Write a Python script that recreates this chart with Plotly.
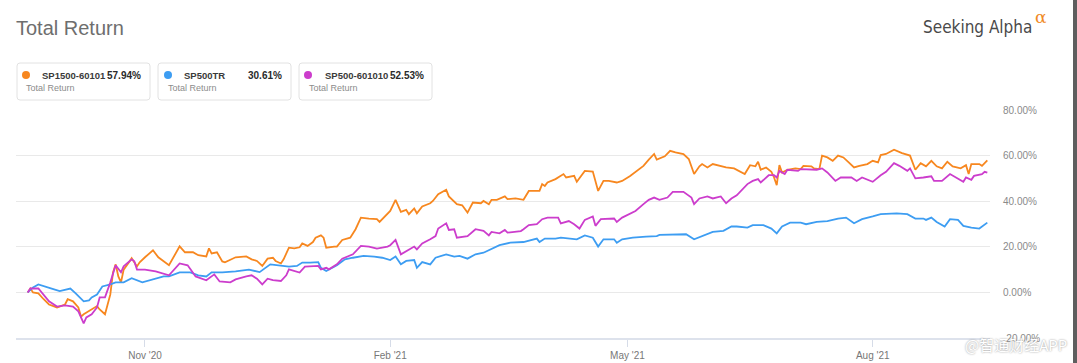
import pandas as pd
import plotly.graph_objects as go

# ---------------- data ----------------
start_date = "2020-09-18"

sp1500_days = [0, 1, 2, 4, 6, 8, 11, 14, 15, 17, 19, 20, 21, 23, 26, 27, 29, 31, 32, 33, 34, 35, 36, 38, 39, 41, 42, 44,
               47, 49, 53, 57, 59, 62, 64, 67, 68, 69, 71, 73, 74, 78, 82, 84, 86, 88, 90, 92, 93, 95, 96, 98, 100,
               102, 103, 105, 107, 108, 110, 111, 112, 115, 116, 118, 121, 123, 125, 128, 131, 132, 134, 136, 138,
               140, 142, 143, 145, 146, 148, 151, 152, 154, 157, 158, 161, 163, 165, 167, 170, 171, 173, 174, 176,
               179, 180, 183, 186, 188, 192, 193, 194, 195, 198, 201, 202, 205, 206, 209, 212, 214, 216, 218, 221,
               223, 226, 228, 231, 233, 235, 236, 239, 241, 243, 246, 248, 250, 252, 253, 255, 257, 260, 262, 265,
               266, 269, 271, 273, 274, 275, 277, 279, 280, 281, 282, 283, 285, 288, 290, 291, 294, 295, 297, 298,
               300, 302, 304, 306, 308, 310, 312, 315, 317, 319, 320, 322, 325, 328, 331, 333, 335, 337, 339, 341,
               343, 345, 347, 350, 352, 353, 354, 357, 358, 360]
sp1500_values = [0, 1.7, 0, -0.4, -3, -5.3, -6.6, -5.3, -3, -3.9, -6.6, -10.6, -9.6, -8.3, -6, -7.5, -9.6, -0.9, 8.8,
                 12.3, 7, 4.4, 10, 13.2, 15, 11.4, 13.2, 15.4, 18.5, 15.4, 11.9, 20.2, 17.6, 17.6, 16.3, 15.8, 19.3,
                 17.1, 17.6, 13.6, 13.2, 15.4, 15.8, 14.5, 13.8, 11.6, 14.8, 15.2, 13.8, 12.7, 14.5, 19.6, 19.3,
                 19.8, 21.5, 20.4, 22.1, 24, 25, 24, 19.6, 20.1, 20.1, 23, 24, 27.7, 32.8, 32.4, 32.1, 30.9, 33.5,
                 35.7, 40.6, 35.3, 36.2, 34.3, 36.8, 34.7, 37.7, 39.1, 40.1, 43.1, 45, 42.1, 38.7, 38.2, 35, 39.4,
                 39.1, 40.1, 38.7, 40.6, 40.6, 42.1, 40.9, 41.2, 40.6, 44.5, 44.5, 47.5, 46.7, 48.2, 49.7, 51.9,
                 50.4, 51.1, 48.5, 53.3, 53, 44.5, 48.9, 48.9, 48.2, 48.9, 51.1, 52.9, 55.5, 58.2, 60.7, 58.2, 59.7,
                 62.1, 61.4, 60.7, 58.5, 51.9, 55.3, 56.3, 54.8, 56.3, 55.3, 54.8, 54.4, 53.8, 51.9, 55.8, 55.3,
                 57.3, 53.8, 54.8, 52.9, 50.4, 47, 55.8, 52.6, 53.8, 54.4, 54.1, 55.5, 55.3, 54.4, 54.1, 60, 59.2,
                 57.7, 60, 59.2, 57, 54.8, 55.5, 56.3, 57.7, 57, 60.2, 60.7, 62.6, 61.1, 60, 53.8, 56.7, 55.3, 57.7,
                 55.3, 54.4, 57.3, 55.3, 54.4, 55.8, 51.9, 56.3, 56.3, 55.5, 57.94]

sp500tr_days = [0, 2, 4, 7, 9, 12, 16, 18, 21, 23, 24, 26, 28, 31, 33, 36, 39, 43, 47, 51, 53, 57, 61, 64, 67, 69, 73,
                78, 83, 87, 91, 95, 98, 101, 103, 106, 109, 110, 112, 116, 119, 122, 126, 130, 133, 136, 138, 140,
                142, 145, 146, 148, 151, 153, 157, 160, 162, 165, 168, 171, 174, 177, 181, 186, 191, 192, 194, 198,
                200, 203, 206, 209, 212, 214, 216, 220, 221, 223, 227, 232, 236, 237, 242, 247, 250, 253, 257, 261,
                264, 266, 270, 272, 276, 279, 281, 283, 286, 290, 292, 296, 300, 304, 307, 310, 313, 317, 320, 326,
                330, 333, 336, 337, 339, 341, 344, 346, 349, 351, 352, 354, 357, 360]
sp500tr_values = [0, 2.2, 3.5, 2.6, 1.7, 0.6, 1.7, -0.4, -3.9, -3.5, -2.2, -0.9, 2.6, 3.5, 4.4, 4.4, 6.2, 4.4, 5.7, 7,
                  7, 8.8, 8.8, 7.5, 7, 8.8, 8.8, 9.2, 10, 8.9, 12.3, 11.9, 11.3, 11.6, 13.1, 13.1, 13.3, 10.8, 9.4,
                  11.9, 14.5, 15.2, 16, 15.7, 15.2, 14.2, 15.7, 12.3, 13.8, 14.2, 10.8, 13.3, 12.3, 15.2, 16.7, 15.7,
                  16, 14.8, 16.7, 17.4, 18.9, 20.7, 21.8, 22.1, 23.6, 22.1, 23.6, 23.6, 24, 23.6, 23.3, 25, 24, 20.1,
                  23.3, 23.3, 21.8, 23.3, 24, 24.5, 24.7, 25.2, 25.5, 25.5, 23.3, 24.7, 26.5, 27, 28.9, 28.9, 28.4,
                  29.5, 29.5, 28, 25.9, 28.9, 30.6, 30.6, 29.9, 30.9, 31.3, 32.4, 32.8, 30.3, 32.1, 33.3, 34.3, 34.7,
                  34.3, 32.4, 32.4, 31.8, 32.8, 30.9, 28.9, 32.1, 31.8, 29.2, 28.9, 28.4, 28, 30.61]

sp500_601010_days = [0, 1, 4, 6, 8, 11, 14, 17, 19, 21, 22, 24, 26, 27, 29, 31, 33, 35, 36, 39, 40, 41, 44, 48, 53,
                     57, 60, 63, 67, 70, 72, 76, 78, 82, 84, 86, 88, 90, 92, 95, 97, 98, 102, 104, 107, 109, 110, 112,
                     113, 116, 118, 122, 125, 128, 131, 135, 136, 138, 140, 142, 145, 146, 148, 151, 153, 154, 157,
                     158, 160, 161, 165, 168, 171, 173, 174, 177, 179, 180, 185, 186, 188, 191, 193, 195, 199, 200,
                     203, 205, 207, 209, 212, 213, 215, 220, 221, 223, 226, 228, 231, 233, 235, 237, 240, 242, 246,
                     249, 250, 252, 255, 257, 260, 262, 264, 266, 270, 272, 274, 275, 278, 280, 281, 282, 284, 285,
                     289, 290, 296, 298, 300, 303, 305, 309, 311, 313, 317, 320, 322, 325, 327, 330, 331, 333, 336,
                     339, 340, 343, 346, 349, 351, 352, 354, 355, 358, 359, 360]
sp500_601010_values = [0, 1.7, 1.7, -0.9, -3.9, -6.2, -5.7, -6.2, -8.3, -13.6, -11, -9.6, -6.6, -2.2, -2.2, 4.4,
                       11.9, 8.8, 11.4, 14.5, 13.6, 10, 10, 9.2, 7.5, 12.7, 11.9, 7, 5.3, 7.9, 4.8, 4.4, 5.7, 7,
                       7.5, 6, 3.5, 6, 5.4, 5, 7.5, 10.1, 8.7, 11.3, 11.3, 11.6, 10.1, 10.8, 10.1, 12.3, 14.8, 16.7,
                       20.4, 20.1, 19.2, 20.1, 20.7, 23, 16.7, 18.2, 20.1, 18.9, 21.5, 23.3, 24.7, 28, 30.3, 27.4,
                       27.7, 24, 24.7, 27.7, 27, 25, 26.5, 25.9, 27.4, 26.2, 26.9, 27.7, 29.5, 29.9, 32.1, 32.8,
                       32.8, 30.3, 31.3, 29.9, 28, 31.8, 33.3, 29.2, 32.1, 32.4, 30.9, 32.8, 34.7, 35.7, 38.7, 40.6,
                       41.6, 40.6, 41.6, 44.1, 44.1, 41.6, 38.7, 41.2, 42.1, 41.2, 42.1, 39.1, 41.2, 42.6, 47.5,
                       48.9, 49.7, 48.2, 51.4, 51.4, 50.4, 53.3, 51.9, 53.8, 53.3, 54.1, 53.8, 54.4, 52.6, 48.9,
                       50.4, 50.4, 48.9, 50.4, 48.5, 51.4, 52.9, 56.7, 55.5, 53.3, 54.4, 50, 50.4, 50.9, 48.9, 48.9,
                       51.9, 50, 48.5, 50.4, 49.4, 51.1, 51.9, 52.9, 52.53]

series_names = ["SP1500-60101", "SP500TR", "SP500-601010"]
series_totals = ["57.94%", "30.61%", "52.53%"]
series_colors = ["#f7871f", "#3d9df2", "#cc3dcc"]

tick_dates = ["2020-11-01", "2021-02-01", "2021-05-01", "2021-08-01"]
tick_labels = ["Nov '20", "Feb '21", "May '21", "Aug '21"]
y_ticks = [-20, 0, 20, 40, 60, 80]

# ---------------- figure ----------------
W, H = 1077, 363
L, R, T, B = 16, 990, 110, 338   # plot area in pixels


def px(x):
    return (x - L) / (R - L)


def py(y):
    return (B - y) / (B - T)


d0 = pd.Timestamp(start_date)
all_days = [sp1500_days, sp500tr_days, sp500_601010_days]
all_vals = [sp1500_values, sp500tr_values, sp500_601010_values]

fig = go.Figure()
for name, days, vals, col in zip(series_names, all_days, all_vals, series_colors):
    fig.add_trace(go.Scatter(
        x=[d0 + pd.Timedelta(days=d) for d in days], y=vals, mode="lines", name=name,
        line=dict(color=col, width=1.8), hoverinfo="skip"))

px_per_day = 2.6656
range_start = d0 - pd.Timedelta(days=(27.7 - L) / px_per_day)
range_end = range_start + pd.Timedelta(days=(R - L) / px_per_day)

fig.update_layout(
    width=W, height=H,
    margin=dict(l=L, r=W - R, t=T, b=H - B, pad=0, autoexpand=False),
    paper_bgcolor="white", plot_bgcolor="white",
    showlegend=False,
    font=dict(family="Liberation Sans, Arial, sans-serif"),
    xaxis=dict(
        type="date", range=[range_start, range_end], automargin=False,
        tickvals=tick_dates, ticktext=tick_labels,
        ticks="outside", ticklen=7, tickcolor="#d6dce8", tickwidth=1,
        showgrid=False, zeroline=False,
        showline=True, linecolor="#dde2ec", linewidth=2,
        tickfont=dict(size=10, color="#777777"),
    ),
    yaxis=dict(
        range=[-20, 80], side="right", automargin=False,
        tickvals=y_ticks, ticktext=[f"{v:.2f}%" for v in y_ticks],
        showgrid=True, gridcolor="#e9e9e9", gridwidth=1,
        zeroline=False, showline=False, ticks="",
        ticklabelstandoff=12,
        tickfont=dict(size=10, color="#8a8a8a"),
    ),
)

shapes = []
annotations = []

# Title
annotations.append(dict(x=px(14), y=py(28), xref="paper", yref="paper", text="Total Return",
                        showarrow=False, xanchor="left", yanchor="middle",
                        font=dict(size=20, color="#6e6e6e")))
# Seeking Alpha logo text
annotations.append(dict(x=px(1034), y=py(27), xref="paper", yref="paper", text="Seeking Alpha",
                        showarrow=False, xanchor="right", yanchor="middle",
                        font=dict(size=17, color="#4a4a4a", family="DejaVu Sans Condensed, Liberation Sans")))
annotations.append(dict(x=px(1033), y=py(17), xref="paper", yref="paper", text="α",
                        showarrow=False, xanchor="left", yanchor="middle",
                        font=dict(size=17, color="#f08a24", family="DejaVu Serif")))

# Legend cards
boxes = [(17, 150, 26, 40, 143, 24), (158, 291, 168, 182, 284, 166), (299, 432, 308, 323, 426, 307)]
for (bx0, bx1, dotx, namex, valx, trx), name, tot, col in zip(boxes, series_names, series_totals, series_colors):
    by0, by1, r = 63, 100, 3
    x0, x1, y0, y1 = px(bx0), px(bx1), py(by0), py(by1)
    rx, ry = r / (R - L), r / (B - T)
    path = (f"M {x0 + rx} {y0} L {x1 - rx} {y0} Q {x1} {y0} {x1} {y0 - ry} "
            f"L {x1} {y1 + ry} Q {x1} {y1} {x1 - rx} {y1} L {x0 + rx} {y1} "
            f"Q {x0} {y1} {x0} {y1 + ry} L {x0} {y0 - ry} Q {x0} {y0} {x0 + rx} {y0} Z")
    shapes.append(dict(type="path", path=path, xref="paper", yref="paper",
                       line=dict(color="#e2e2e2", width=1), fillcolor="white", layer="above"))
    shapes.append(dict(type="circle", xref="paper", yref="paper",
                       x0=px(dotx - 4), x1=px(dotx + 4), y0=py(75 - 4), y1=py(75 + 4),
                       fillcolor=col, line=dict(width=0), layer="above"))
    annotations.append(dict(x=px(namex), y=py(75), xref="paper", yref="paper", text=f"<b>{name}</b>",
                            showarrow=False, xanchor="left", yanchor="middle",
                            font=dict(size=9.5, color="#3a3a3a")))
    annotations.append(dict(x=px(valx), y=py(75), xref="paper", yref="paper", text=f"<b>{tot}</b>",
                            showarrow=False, xanchor="right", yanchor="middle",
                            font=dict(size=10, color="#2a2a2a")))
    annotations.append(dict(x=px(trx), y=py(88), xref="paper", yref="paper", text="Total Return",
                            showarrow=False, xanchor="left", yanchor="middle",
                            font=dict(size=9, color="#8c8c8c")))

# watermark
annotations.append(dict(x=px(1069), y=py(344), xref="paper", yref="paper", text="@智通财经APP",
                        showarrow=False, xanchor="right", yanchor="middle",
                        font=dict(size=15, color="#ffffff", family="Noto Sans CJK SC",
                                  shadow="0px 0px 2px #8a8a8a")))

# right border strip of the screenshot
shapes.append(dict(type="rect", xref="paper", yref="paper", x0=px(1073), x1=px(1078), y0=py(-2), y1=py(365),
                   fillcolor="#5e5e5e", line=dict(width=0), layer="above"))

fig.update_layout(shapes=shapes, annotations=annotations)
fig.write_html("out.html", config={"displayModeBar": False},
               post_script="document.body.style.margin='0px';document.body.style.overflow='hidden';")
